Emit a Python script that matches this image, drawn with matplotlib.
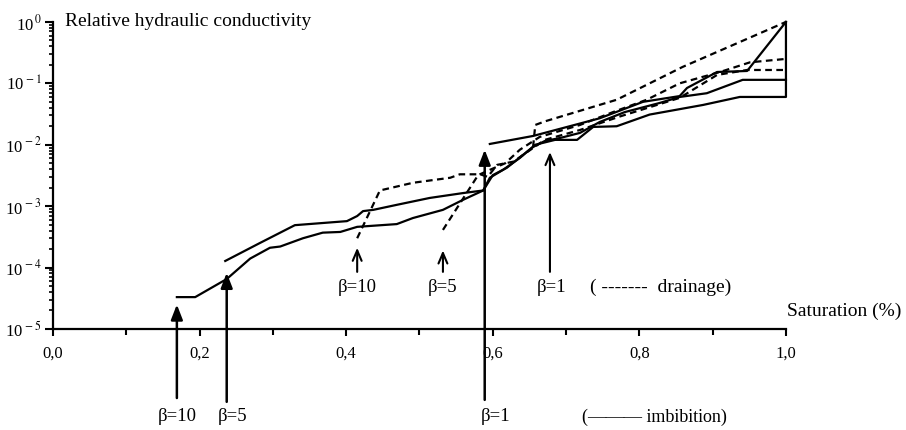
import numpy as np
import matplotlib
matplotlib.use("Agg")
import matplotlib.pyplot as plt
from matplotlib.ticker import FixedLocator, LogLocator, NullFormatter

plt.rcParams['font.family'] = ['Liberation Serif', 'DejaVu Serif']
plt.rcParams['mathtext.fontset'] = 'stix'

# imbibition curves (solid)
s_imb10 = [0.169, 0.194, 0.237, 0.269, 0.296, 0.310, 0.341, 0.368, 0.392, 0.415, 0.469, 0.491,
           0.532, 0.559, 0.587, 0.596, 0.614, 0.637, 0.658, 0.685, 0.715, 0.737, 0.769, 0.814,
           0.887, 0.937, 1.0, 1.0]
k_imb10 = [3.3e-5, 3.3e-5, 6.5e-5, 1.4e-4, 2.1e-4, 2.2e-4, 3.0e-4, 3.7e-4, 3.8e-4, 4.6e-4, 5.1e-4, 6.4e-4,
           8.7e-4, 1.26e-3, 1.8e-3, 2.9e-3, 3.9e-3, 6.1e-3, 1.0e-2, 1.2e-2, 1.2e-2, 1.95e-2, 2.0e-2, 3.1e-2,
           4.45e-2, 6.0e-2, 6.0e-2, 1.0]

s_imb5 = [0.235, 0.282, 0.330, 0.401, 0.415, 0.423, 0.437, 0.469, 0.514, 0.559, 0.587, 0.600, 0.619,
          0.641, 0.655, 0.671, 0.692, 0.719, 0.746, 0.780, 0.828, 0.855, 0.892, 0.941, 1.0]
k_imb5 = [1.28e-4, 2.5e-4, 4.9e-4, 5.7e-4, 6.9e-4, 8.3e-4, 8.7e-4, 1.05e-3, 1.36e-3, 1.63e-3, 1.8e-3, 3.2e-3, 4.2e-3,
          6.8e-3, 9.2e-3, 1.15e-2, 1.29e-2, 1.56e-2, 2.35e-2, 3.4e-2, 4.8e-2, 6.0e-2, 6.9e-2, 0.114, 0.114]

s_imb1 = [0.596, 0.655, 0.746, 0.805, 0.855, 0.865, 0.906, 0.947, 1.0]
k_imb1 = [1.03e-2, 1.39e-2, 2.7e-2, 5.0e-2, 6.2e-2, 8.4e-2, 0.153, 0.159, 1.0]

# drainage curves (dashed)
s_dr10 = [0.415, 0.446, 0.491, 0.542, 0.555, 0.583, 0.593, 0.606, 0.628, 0.647, 0.671, 0.719, 0.774,
          0.855, 0.906, 0.947, 1.0]
k_dr10 = [3.0e-4, 1.8e-3, 2.4e-3, 2.9e-3, 3.3e-3, 3.3e-3, 3.0e-3, 4.7e-3, 5.3e-3, 7.6e-3, 1.2e-2, 1.74e-2, 2.9e-2,
          5.8e-2, 0.137, 0.165, 0.165]

s_dr5 = [0.532, 0.580, 0.596, 0.617, 0.637, 0.664, 0.719, 0.764, 0.810, 0.855, 0.910, 0.951, 1.0]
k_dr5 = [4.1e-4, 3.2e-3, 3.9e-3, 5.0e-3, 8.3e-3, 1.34e-2, 2.1e-2, 3.4e-2, 5.4e-2, 0.10, 0.153, 0.22, 0.25]

s_dr1 = [0.655, 0.658, 0.671, 0.769, 0.859, 1.0]
k_dr1 = [9.2e-3, 2.1e-2, 2.4e-2, 5.4e-2, 0.185, 1.0]

# arrows: (saturation, tip, tail, label, label position)
imb_arrows = [(0.169, 2.5e-5, 7.5e-7, "β=10", 0.170),
              (0.237, 8.2e-5, 6.5e-7, "β=5", 0.245),
              (0.589, 8.3e-3, 7.0e-7, "β=1", 0.604)]
dr_arrows = [(0.415, 2.1e-4, 8.5e-5, "β=10", 0.415),
             (0.532, 1.9e-4, 8.5e-5, "β=5", 0.532),
             (0.678, 7.6e-3, 8.5e-5, "β=1", 0.680)]

fig = plt.figure(figsize=(9.06, 4.3), dpi=100)
ax = fig.add_axes([0.0585, 0.235, 0.809, 0.714])

lw = 1.6
for s, k in [(s_imb10, k_imb10), (s_imb5, k_imb5), (s_imb1, k_imb1)]:
    ax.plot(s, k, color='black', lw=lw, clip_on=False)
for s, k in [(s_dr10, k_dr10), (s_dr5, k_dr5), (s_dr1, k_dr1)]:
    ax.plot(s, k, color='black', lw=lw, ls=(0, (3, 2)), clip_on=False)

ax.set_yscale('log')
ax.set_xlim(0, 1)
ax.set_ylim(1e-5, 1)

for s, tip, tail, lab, lx in imb_arrows:
    ax.annotate("", xy=(s, tip), xytext=(s, tail), annotation_clip=False,
                arrowprops=dict(arrowstyle='-|>,head_length=0.9,head_width=0.35', color='black',
                                lw=1.8, shrinkA=0, shrinkB=0))
    ax.text(lx, 3.7e-7, lab, ha='center', va='center', fontsize=13.5)

for s, tip, tail, lab, lx in dr_arrows:
    ax.annotate("", xy=(s, tip), xytext=(s, tail), annotation_clip=False,
                arrowprops=dict(arrowstyle='->,head_length=0.75,head_width=0.32', color='black',
                                lw=1.5, shrinkA=0, shrinkB=0))
    ax.text(lx, 4.7e-5, lab, ha='center', va='center', fontsize=13.5)

ax.text(0.733, 4.7e-5, "( -------  drainage)", ha='left', va='center', fontsize=14)
ax.text(0.722, 3.7e-7, "(\u2014\u2014\u2014 imbibition)", ha='left', va='center', fontsize=13)
ax.text(1.002, 1.9e-5, "Saturation (%)", ha='left', va='center', fontsize=14)
ax.text(0.016, 1.0, "Relative hydraulic conductivity", transform=ax.transAxes,
        ha='left', va='center', fontsize=14)

# axes styling
ax.spines['top'].set_visible(False)
ax.spines['right'].set_visible(False)
ax.spines['left'].set_linewidth(1.6)
ax.spines['bottom'].set_linewidth(1.6)

ax.xaxis.set_major_locator(FixedLocator([0, 0.2, 0.4, 0.6, 0.8, 1.0]))
ax.xaxis.set_minor_locator(FixedLocator([0.1, 0.3, 0.5, 0.7, 0.9]))
ax.set_xticklabels(["0,0", "0,2", "0,4", "0,6", "0,8", "1,0"])
ax.tick_params(axis='x', which='major', length=5, width=1.5, labelsize=12, pad=7)
ax.tick_params(axis='x', which='minor', length=4, width=1.5)

ax.yaxis.set_major_locator(FixedLocator([1e-5, 1e-4, 1e-3, 1e-2, 1e-1, 1]))
ax.yaxis.set_minor_locator(LogLocator(base=10, subs=np.arange(2, 10)))
ax.yaxis.set_minor_formatter(NullFormatter())
ax.set_yticklabels([r"10$^{\,-5}$", r"10$^{\,-4}$", r"10$^{\,-3}$", r"10$^{\,-2}$",
                    r"10$^{\,-1}$", r"10$^{\,0}$"])
ax.tick_params(axis='y', which='major', length=6, width=1.5, labelsize=12, pad=2)
ax.tick_params(axis='y', which='minor', length=3, width=1.2)

fig.savefig("out.png", dpi=100)
